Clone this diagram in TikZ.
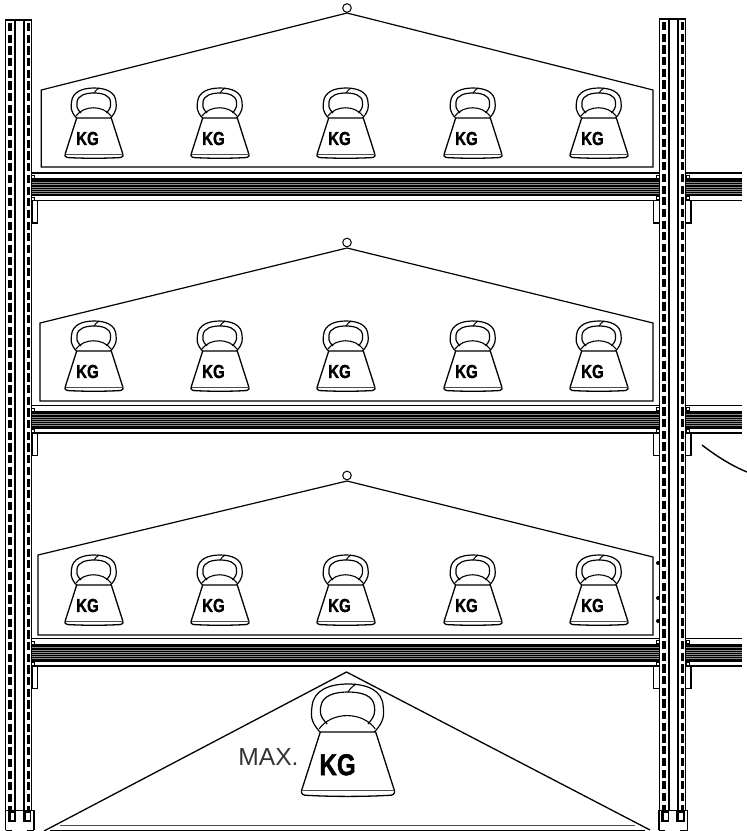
\documentclass[tikz,border=0pt]{standalone}
\usepackage{fontspec}
\usepackage{graphicx}
\setmainfont{Liberation Sans}
\newfontfamily\kgfont[FakeBold=1.6]{Liberation Sans Bold}
\tikzset{
  x=1pt,y=-1pt,
  panel/.style={draw=black,line width=1.2pt,line join=miter},
  rail/.style={draw=black,line width=2.4pt},
  railout/.style={draw=black,line width=1.4pt},
  holes/.style={draw=black,line width=3.8pt,dash pattern=on 8.2pt off 3.48pt},
  bracket/.style={draw=black,line width=1.1pt},
  kgtext/.style={font=\kgfont\fontsize{18.8}{20}\selectfont,inner sep=0pt,transform shape},
  kettle/.pic={
    \draw[line width=1.2pt,fill=white] (-17.5,-40) .. controls (-24,-47) and (-23,-51) .. (-22.5,-56)
       .. controls (-21.5,-66) and (-12,-70) .. (0,-70)
       .. controls (12,-70) and (21.5,-66) .. (22,-56)
       .. controls (22.5,-51) and (23,-47) .. (16.5,-40);
    \draw[line width=1.2pt] (-13,-45) .. controls (-18,-50) and (-17.5,-53) .. (-17,-56)
       .. controls (-16,-63) and (-8,-65) .. (0,-65)
       .. controls (8,-65) and (16,-63) .. (16.5,-56)
       .. controls (17,-53) and (17,-50) .. (12.5,-45);
    \draw[line width=1.1pt] (-18,-42) .. controls (-10,-53) and (9,-53) .. (17,-42);
    \draw[line width=1pt] (0,-65) .. controls (1,-67) and (3,-68.5) .. (5,-70);
    \draw[line width=1.3pt,fill=white,line join=round] (-17.3,-40) -- (17.3,-40) -- (28.5,-5)
       .. controls (29.5,-3) and (29.5,-1) .. (27,-.5)
       .. controls (10,.5) and (-10,.5) .. (-27,-.5)
       .. controls (-29.5,-1) and (-29.5,-3) .. (-28.5,-5) -- cycle;
    \draw[line width=.8pt,draw=black!70] (-28.5,-3.5) -- (28.5,-3.5);
    \node[kgtext] (-kg) at (-6.5,-19.5) {\scalebox{.8}[1]{KG}};
  }
}
\newcommand{\beamrun}[3]{% x0,x1,y of top line
  \fill[white] (#1,#3) rectangle (#2,#3+27.5);
  \draw[line width=1.8pt] (#1,#3) -- (#2,#3);
  \draw[line width=1.6pt] (#1,#3+27.5) -- (#2,#3+27.5);
  \fill[black] (#1,#3+5) rectangle (#2,#3+23);
  \foreach \d in {9,11.5,14,16,18,20}
    \draw[black!45,line width=.45pt] (#1,#3+\d) -- (#2,#3+\d);
}
\newcommand{\beambrk}[1]{% y of top line
  \beamrun{31}{660}{#1}
  \beamrun{685}{742}{#1}
  \draw[bracket] (32,#1+27.5) -- (32,#1+50) -- (37.5,#1+50) -- (37.5,#1+27.5);
  \draw[bracket] (653.5,#1+27.5) -- (653.5,#1+50) -- (660,#1+50);
  \draw[bracket] (685,#1+50) -- (691,#1+50) -- (691,#1+27.5);
  \foreach \px/\py in {33/4,33/25.5,657.7/3.5,657.7/25,688/3.5,688/25}
    \draw[fill=white,line width=1pt] (\px-1.5,#1+\py-1.5) rectangle (\px+1.5,#1+\py+1.5);
}
\newcommand{\upright}[3]{% x0, y top, y bottom
  \fill[white] (#1,#2) rectangle (#1+25.7,#3);
  \draw[railout] (#1,#3) -- (#1,#2) -- (#1+25.7,#2) -- (#1+25.7,#3);
  \draw[rail] (#1+9.7,#2) -- (#1+9.7,#3);
  \draw[rail] (#1+18.3,#2) -- (#1+18.3,#3);
  \draw[holes] (#1+4.6,#2+3) -- (#1+4.6,#3);
  \draw[holes] (#1+22.9,#2+3) -- (#1+22.9,#3);
}
\newcommand{\foot}[1]{% x0
  \draw[railout] (#1,830) -- (#1,810.5) -- (#1+28.5,810.5) -- (#1+28.5,830);
  \draw[line width=1.1pt,fill=white] (#1+3,812) rectangle (#1+9.5,821);
  \draw[line width=1.1pt,fill=white] (#1+18,812) rectangle (#1+25,821);
  \fill (#1+3,812) rectangle (#1+5,821);
  \fill (#1+18,812) rectangle (#1+20,821);
  \draw[line width=1.3pt] (#1,830.5) -- (#1+6,830.5);
  \draw[line width=1.3pt] (#1+21,830.5) -- (#1+28.5,830.5);
}
\begin{document}
\begin{tikzpicture}
\useasboundingbox (0,0) rectangle (747,831);
% beams
\beambrk{173}
\beambrk{405.5}
\beambrk{638.5}
% uprights
\upright{5.5}{20}{811}
\upright{659.5}{19}{811}
\foot{5.5}
\foot{659}
% sign 1
\draw[panel] (41.3,167) -- (41.3,90) -- (347,13) -- (653,90) -- (653,167) -- cycle;
\draw[line width=1pt,fill=white] (347,8) circle (4.3);
% sign 2
\draw[panel] (40,401) -- (40,323) -- (347,248) -- (653,323) -- (653,401) -- cycle;
\draw[line width=1pt,fill=white] (347,242.5) circle (4.3);
% sign 3
\draw[panel] (38,635) -- (38,555) -- (347,481) -- (653,557) -- (653,635) -- cycle;
\draw[line width=1pt,fill=white] (347,475.5) circle (4.3);
\foreach \py in {563,598,621}
  \fill (658,\py) circle (2);
% kettles
\foreach \kx [count=\i] in {94,220,346,473,599}{
  \pic (a\i) at (\kx,158) {kettle};
  \pic (b\i) at (\kx,391) {kettle};
  \pic (c\i) at (\kx,625) {kettle};
}
% bottom triangle
\draw[line width=1.3pt] (44,831) -- (346.5,672) -- (650,830);
\draw[line width=1pt,draw=black!70] (60,825.7) -- (635,825.7);
\draw[line width=1.3pt] (50,830.5) -- (645,830.5);
\pic[scale=1.6] (big) at (348,796) {kettle};
\node[font=\fontsize{24.6}{26}\selectfont,text=black!80,inner sep=0pt] (maxlabel) at (268.5,757.5) {MAX.};
% curve at right
\draw[line width=1.4pt] (702,445) .. controls (715,455) and (730,465) .. (747,472);
\end{tikzpicture}
\end{document}
